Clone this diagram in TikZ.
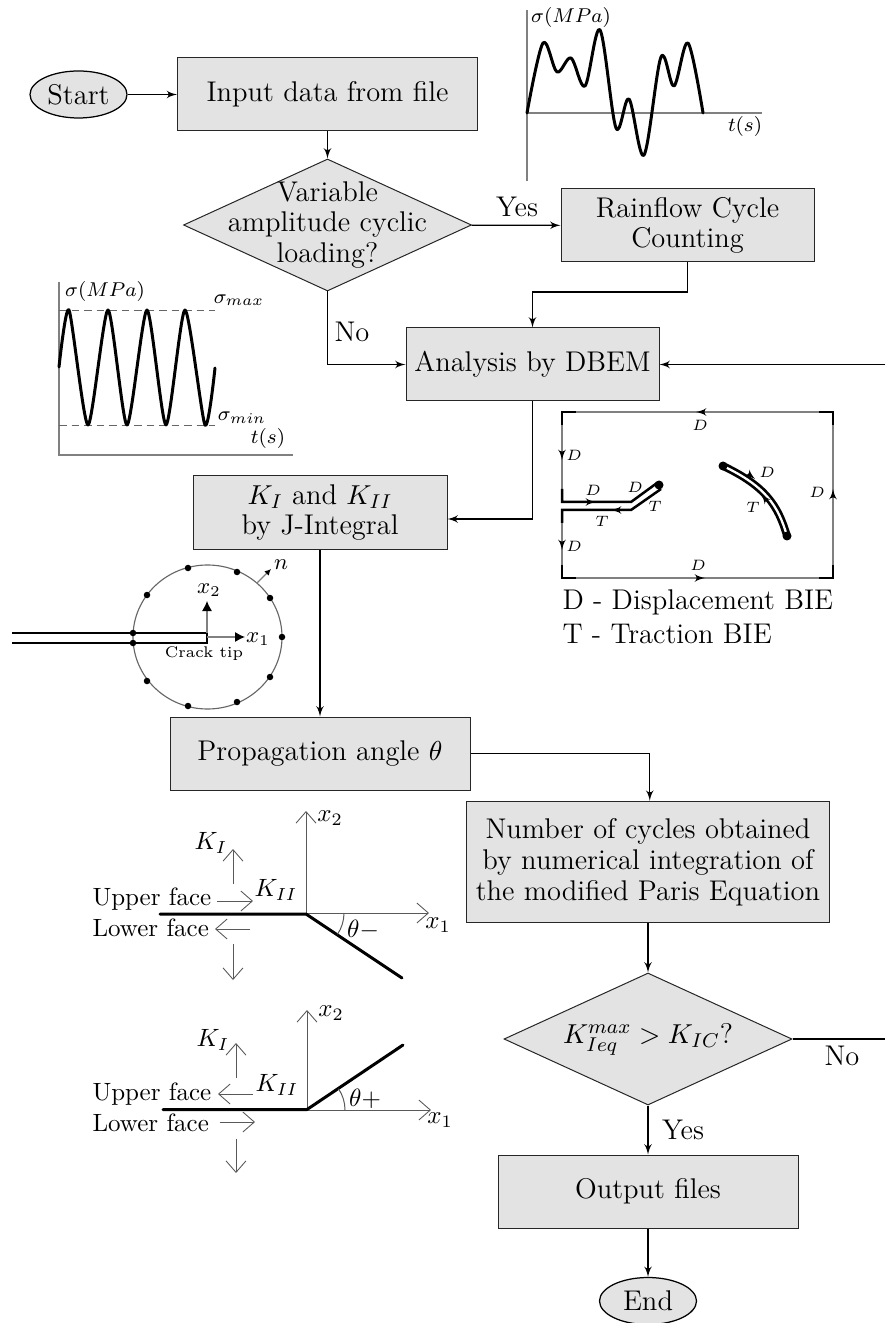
\documentclass[tikz,border=0pt]{standalone}
\usepackage{amsmath}
\usetikzlibrary{arrows,arrows.meta,shapes.geometric}
\newcommand{\flowsize}{\fontsize{11.4}{13.8}\selectfont}
\newcommand{\facesize}{\fontsize{10.4}{12.5}\selectfont}
\newcommand{\biesize}{\fontsize{6.2}{7.5}\selectfont}

\begin{document}
\begin{tikzpicture}[x=0.4pt,y=-0.4pt]
\tikzset{block/.style = {shape=rectangle,draw=black!85,fill=black!11,font=\flowsize,align=center,inner sep=0pt}}
\tikzset{terminal/.style = {shape=ellipse,draw=black,line width=0.5pt,fill=black!11,font=\flowsize,inner sep=0pt,minimum width=38.8pt,minimum height=18.8pt}}
\tikzset{decision/.style = {shape=diamond,draw=black!85,fill=black!11,font=\flowsize,align=center,aspect=2.17,inner sep=-7pt,minimum width=115.2pt,minimum height=52.8pt}}
\tikzset{edge/.style = {->,> = latex',line width=0.45pt}}
\tikzset{axis/.style = {draw=black!50,line width=0.45pt}}
\tikzset{openarrow/.style = {-{Straight Barb[length=4.6pt,width=8pt,line width=0.35pt]},draw=black!65,line width=0.4pt}}
\tikzset{curve/.style = {line width=1.2pt,line cap=round,line join=round}}
\tikzset{crack/.style = {line width=1.1pt}}
\tikzset{corner/.style = {line width=1pt}}
\tikzset{bdry/.style = {draw=black!50,line width=0.45pt}}
\tikzset{tick/.style = {->,> = latex',line width=0.45pt}}
\tikzset{gauss/.style = {shape=circle,fill=black,inner sep=0pt,minimum size=2.6pt}}
\tikzset{bie/.style = {font=\biesize,inner sep=0pt}}
\tikzset{lab/.style = {inner sep=0pt}}

\useasboundingbox (0,0) rectangle (885,1323);

% flowchart

\node[terminal] (start) at (78.5,94.5) {Start};
\node[block,minimum width=120pt,minimum height=29.2pt] (input) at (327.5,94.5) {Input data from file};
\node[decision] (loading) at (327.5,225) {Variable\\[-1.6pt]amplitude cyclic\\[-1.6pt]loading?};
\node[block,minimum width=101.2pt,minimum height=29.2pt] (rainflow) at (687.5,225.5) {Rainflow Cycle\\[-1.6pt]Counting};
\node[block,minimum width=101.2pt,minimum height=29.2pt] (analysis) at (532.5,364.5) {Analysis by DBEM};
\node[block,minimum width=101.6pt,minimum height=29.2pt] (sif) at (320,512.5) {$K_I$ and $K_{II}$\\[-1.6pt]by J-Integral};
\node[block,minimum width=120pt,minimum height=29.2pt] (angle) at (320,753.5) {Propagation angle $\theta$};
\node[block,minimum width=145.2pt,minimum height=48.6pt] (cycles) at (648,862) {Number of cycles obtained\\[-1.3pt]by numerical integration of\\[-1.3pt]the modified Paris Equation};
\node[decision] (check) at (648,1039) {$K_{Ieq}^{max} > K_{IC}$?};
\node[block,minimum width=120pt,minimum height=29.2pt] (output) at (648,1191.5) {Output files};
\node[terminal] (end) at (648,1301) {End};

\coordinate (bendr) at (687.5,292);
\coordinate (loopin) at (885,364.5);
\coordinate (loopout) at (885,1039);

\node[lab,font=\flowsize] (yes1) at (517,207) {Yes};
\node[lab,font=\flowsize] (no1) at (352,332) {No};
\node[lab,font=\flowsize] (no2) at (842,1056) {No};
\node[lab,font=\flowsize] (yes2) at (683,1130) {Yes};

% edges

\draw[edge] (start) to (input);
\draw[edge] (input) to (loading);
\draw[edge] (loading) to (rainflow);
\draw[edge] (rainflow.south) -- (bendr) -| (analysis.north);
\draw[edge] (loading.south) |- (analysis.west);
\draw[edge] (loopin) to (analysis.east);
\draw[edge] (analysis.south) |- ([yshift=-2.6pt]sif.east);
\draw[edge] (sif.south) to (angle.north);
\draw[edge] (angle.east) -| ([xshift=0.7pt]cycles.north);
\draw[edge] (cycles.south) to (check.north);
\draw[edge] (check.south) to (output.north);
\draw[edge] (output.south) to (end.north);
\draw[line width=0.45pt] (check.east) to (loopout);

% variable loading

\draw[axis] (527,10) -- (527,181);
\draw[axis] (527,113) -- (762,113);
\draw[curve] plot[smooth,tension=0.55] coordinates {(527,113) (543,43) (557,72) (571,58) (585,86) (600,30) (616,128) (629,99) (644,155) (661,57) (674,86) (688,43) (703,113)};
\node[lab,font=\footnotesize] (sigvar) at (571,18) {$\sigma(MPa)$};
\node[lab,font=\footnotesize] (tvar) at (745,127) {$t(s)$};

% constant loading

\draw[axis] (59,282) -- (59,455) -- (293,455);
\draw[densely dashed,draw=black!60,line width=0.35pt] (59,310) -- (215,310);
\draw[densely dashed,draw=black!60,line width=0.35pt] (59,425) -- (215,425);
\draw[curve] plot[smooth,tension=0.4] coordinates {(59,367) (69,310) (88,425) (108,310) (127,425) (147,310) (166,425) (185,310) (205,425) (215,368)};
\node[lab,font=\footnotesize] (sigcon) at (105,292) {$\sigma(MPa)$};
\node[lab,font=\footnotesize] (sigmax) at (239,300) {$\sigma_{max}$};
\node[lab,font=\footnotesize] (sigmin) at (242,418) {$\sigma_{min}$};
\node[lab,font=\footnotesize] (tcon) at (268,439) {$t(s)$};

% BIE domain

\draw[bdry] (562,502) -- (562,412) -- (833,412) -- (833,578) -- (562,578) -- (562,510);
\draw[corner] (562,425) -- (562,412) -- (576,412);
\draw[corner] (819,412) -- (833,412) -- (833,425);
\draw[corner] (833,565) -- (833,578) -- (819,578);
\draw[corner] (576,578) -- (562,578) -- (562,565);
\draw[corner] (562,489) -- (562,502) -- (631,502) -- (657,483);
\draw[corner] (562,523) -- (562,510) -- (631,510) -- (661,489);
\node[gauss,minimum size=3.6pt] (tipa) at (659,485) {};
\draw[crack,double,double distance=0.9pt] (723,466) .. controls (765,486) and (778,505) .. (787,536);
\node[gauss,minimum size=3.6pt] (tipb) at (723,466) {};
\node[gauss,minimum size=3.6pt] (tipc) at (787,536) {};

\draw[tick] (702,412) -- (696,412);
\draw[tick] (698,578) -- (705,578);
\draw[tick] (562,452) -- (562,460);
\draw[tick] (562,542) -- (562,550);
\draw[tick] (833,496) -- (833,489);
\draw[tick] (590,502) -- (596,502);
\draw[tick] (617,510) -- (611,510);
\draw[tick] (750,475) -- (755,479);
\draw[tick] (766,500) -- (761,494);

\node[bie] (d1) at (700,425) {$D$};
\node[bie] (d2) at (698,565) {$D$};
\node[bie] (d3) at (574,455) {$D$};
\node[bie] (d4) at (574,546) {$D$};
\node[bie] (d5) at (593,490) {$D$};
\node[bie] (d6) at (635,487) {$D$};
\node[bie] (d7) at (817,492) {$D$};
\node[bie] (d8) at (767,472) {$D$};
\node[bie] (t1) at (655,506) {$T$};
\node[bie] (t2) at (602,521) {$T$};
\node[bie] (t3) at (753,507) {$T$};

\node[lab,font=\flowsize,anchor=west] (legd) at (562,602) {D - Displacement BIE};
\node[lab,font=\flowsize,anchor=west] (legt) at (562,634) {T - Traction BIE};

% J-integral path

\node[shape=ellipse,draw=black!60,line width=0.45pt,inner sep=0pt,minimum width=59.6pt,minimum height=57.6pt] (path) at (207.5,637) {};
\draw[crack,line width=0.8pt] (12,633) -- (207,633) -- (207,643) -- (12,643);
\draw[axis,-{Latex[length=4pt,width=4pt,black]}] (207,637) -- (245,637);
\draw[axis,-{Latex[length=4pt,width=4pt,black]}] (207,633) -- (207,601);
\draw[axis,-{Latex[length=2.5pt,width=2.5pt,black]}] (257,583) -- (271,569);
\node[gauss] (g1) at (133,633) {};
\node[gauss] (g2) at (133,643) {};
\node[gauss] (g3) at (147,595) {};
\node[gauss] (g4) at (188,568) {};
\node[gauss] (g5) at (237,572) {};
\node[gauss] (g6) at (270,598) {};
\node[gauss] (g7) at (282,637) {};
\node[gauss] (g8) at (270,677) {};
\node[gauss] (g9) at (237,702) {};
\node[gauss] (g10) at (188,706) {};
\node[gauss] (g11) at (147,681) {};
\node[lab,font=\small] (x1) at (258,639) {$x_1$};
\node[lab,font=\small] (x2) at (209,590) {$x_2$};
\node[lab,font=\small] (nrm) at (281,565) {$n$};
\node[lab,font=\biesize] (tip) at (204,654) {Crack tip};

% negative angle

\draw[openarrow] (306,913) -- (306,811);
\draw[openarrow] (306,913) -- (429,913);
\draw[curve] (160,914) -- (306,914) -- (402,978);
\draw[draw=black!65,line width=0.4pt] (344,913) arc[start angle=0,end angle=-34,radius=15.2pt];
\draw[openarrow] (233,884) -- (233,849);
\draw[openarrow] (217,901) -- (253,901);
\draw[openarrow] (250,929) -- (215,929);
\draw[openarrow] (233,944) -- (233,980);
\node[lab,font=\facesize] (ka1) at (211,843) {$K_I$};
\node[lab,font=\facesize] (kb1) at (276,890) {$K_{II}$};
\node[lab,font=\normalsize,anchor=west] (up1) at (92,899) {Upper face};
\node[lab,font=\normalsize,anchor=west] (lo1) at (92,928) {Lower face};
\node[lab,font=\facesize] (xa1) at (438,925) {$x_1$};
\node[lab,font=\facesize] (xb1) at (330,818) {$x_2$};
\node[lab,font=\facesize] (th1) at (363,930) {$\theta-$};

% positive angle

\draw[openarrow] (307,1110) -- (307,1010);
\draw[openarrow] (307,1110) -- (431,1110);
\draw[curve] (163,1109.5) -- (307,1109.5) -- (403,1045);
\draw[draw=black!65,line width=0.4pt] (345,1110) arc[start angle=0,end angle=34,radius=15.2pt];
\draw[openarrow] (236,1078) -- (236,1043);
\draw[openarrow] (253,1094) -- (218,1094);
\draw[openarrow] (220,1122) -- (255,1122);
\draw[openarrow] (236,1139) -- (236,1173);
\node[lab,font=\facesize] (ka2) at (213,1040) {$K_I$};
\node[lab,font=\facesize] (kb2) at (277,1085) {$K_{II}$};
\node[lab,font=\normalsize,anchor=west] (up2) at (92,1094) {Upper face};
\node[lab,font=\normalsize,anchor=west] (lo2) at (92,1123) {Lower face};
\node[lab,font=\facesize] (xa2) at (440,1120) {$x_1$};
\node[lab,font=\facesize] (xb2) at (331,1013) {$x_2$};
\node[lab,font=\facesize] (th2) at (365,1099) {$\theta+$};
\end{tikzpicture}
\end{document}
